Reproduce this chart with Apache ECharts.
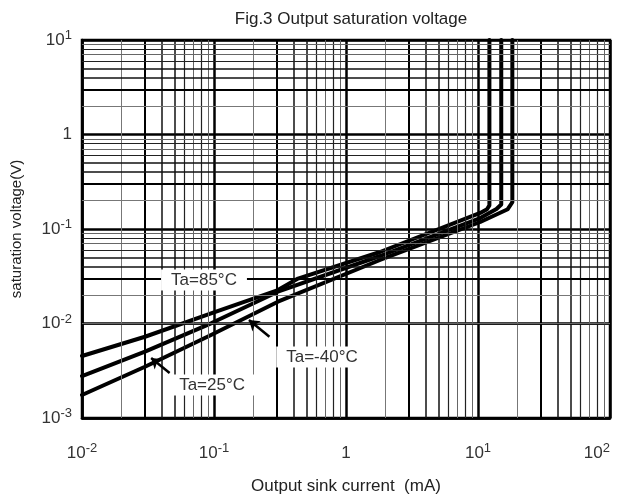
<!DOCTYPE html>
<html><head><meta charset="utf-8">
<script src="https://cdn.jsdelivr.net/npm/echarts@6/dist/echarts.min.js"></script>
<style>html,body{margin:0;padding:0;background:#fff}#c{width:619px;height:499px}</style>
</head><body><div id="c"></div>
<script>
// ---- data ----
const titleText = 'Fig.3 Output saturation voltage';
const xName = 'Output sink current  (mA)';
const yName = 'saturation voltage(V)';
const xTickValues = [0.01, 0.1, 1, 10, 100];
const xTickLabels = ['10{s|-2}', '10{s|-1}', '1', '10{s|1}', '10{s|2}'];
const yTickValues = [0.001, 0.01, 0.1, 1, 10];
const yTickLabels = ['10{s|-3}', '10{s|-2}', '10{s|-1}', '1', '10{s|1}'];

const ta85I = [0.01, 0.030, 0.095, 0.305, 0.433, 1.81, 10.4, 11.7, 12.2, 12.2];
const ta85V = [0.00453, 0.00724, 0.0128, 0.0226, 0.0299, 0.0571, 0.148, 0.162, 0.178, 10];
const ta25I = [0.01, 0.030, 0.095, 0.305, 1.81, 10.4, 13.8, 15.0, 15.0];
const ta25V = [0.00278, 0.00503, 0.01005, 0.0217, 0.0518, 0.1306, 0.163, 0.182, 10];
const taM40I = [0.01, 0.030, 0.095, 0.305, 1.81, 10.4, 16.8, 18.2, 18.2];
const taM40V = [0.00175, 0.00349, 0.00755, 0.0170, 0.047, 0.1186, 0.162, 0.192, 10];

const labelTexts = ['Ta=85°C', 'Ta=-40°C', 'Ta=25°C'];
const labelPosI = [0.084, 0.658, 0.0967];
const labelPosV = [0.0288, 0.00443, 0.00223];
const arrowFromI = [0.263, 0.0461];
const arrowFromV = [0.00724, 0.00299];
const arrowToI = [0.184, 0.0334];
const arrowToV = [0.0109, 0.00431];

const xDecades = [0.01, 0.1, 1, 10];
const yDecades = [0.001, 0.01, 0.1, 1];
const minorMult = [2, 3, 4, 5, 6, 7, 8, 9];

// ---- build ----
const zip = (a, b) => a.map((v, i) => [v, b[i]]);
const multStyle = {
  2: {width: 1, color: '#777'}, 3: {width: 2, color: '#000'}, 4: {width: 1.5, color: '#111'},
  5: {width: 1.5, color: '#111'}, 6: {width: 1.2, color: '#222'}, 7: {width: 1, color: '#666'},
  8: {width: 1.2, color: '#222'}, 9: {width: 1, color: '#666'}
};
const gridLines = [];
xDecades.forEach(d => minorMult.forEach(m => gridLines.push({xAxis: d * m, lineStyle: Object.assign({type: 'solid'}, multStyle[m])})));
yDecades.forEach(d => minorMult.forEach(m => gridLines.push({yAxis: d * m, lineStyle: Object.assign({type: 'solid'}, multStyle[m])})));

function tickFmt(vals, labels) {
  return function (v) {
    for (let i = 0; i < vals.length; i++) if (Math.abs(Math.log10(v / vals[i])) < 1e-6) return labels[i];
    return '';
  };
}
const FONT = '"Liberation Sans", Arial, sans-serif';
const rich = {s: {fontSize: 13, lineHeight: 12, verticalAlign: 'top', color: '#333', fontFamily: FONT}};

function curve(name, I, V) {
  return {name, type: 'line', data: zip(I, V), showSymbol: false, symbol: 'none', z: 3,
    lineStyle: {color: '#000', width: 4, join: 'round', cap: 'round'}, animation: false};
}

const chart = echarts.init(document.getElementById('c'), null, {renderer: 'canvas'});
chart.setOption({
  animation: false,
  backgroundColor: '#fff',
  title: {text: titleText, left: 346, top: 6, textAlign: 'center',
    textStyle: {fontSize: 17, fontWeight: 'normal', color: '#222', fontFamily: FONT}},
  grid: {left: 82, right: 9, top: 40, bottom: 81, show: true, borderColor: '#000', borderWidth: 2.5,
    backgroundColor: '#fff', containLabel: false, outerBoundsMode: 'none'},
  xAxis: {type: 'log', logBase: 10, min: 0.01, max: 100, name: xName, nameLocation: 'middle', nameGap: 60,
    nameTextStyle: {fontSize: 17, color: '#222', fontFamily: FONT},
    axisLine: {show: true, lineStyle: {color: '#000', width: 2.5}}, axisTick: {show: false},
    axisLabel: {formatter: tickFmt(xTickValues, xTickLabels), rich, fontSize: 17, lineHeight: 22, margin: 24,
      color: '#333', fontFamily: FONT, alignMaxLabel: 'right'},
    splitLine: {show: true, lineStyle: {color: '#000', width: 2.5}}},
  yAxis: {type: 'log', logBase: 10, min: 0.001, max: 10, name: yName, nameLocation: 'middle', nameGap: 58, nameRotate: 90,
    nameTextStyle: {fontSize: 15, color: '#222', fontFamily: FONT},
    axisLine: {show: true, lineStyle: {color: '#000', width: 2.5}}, axisTick: {show: false},
    axisLabel: {formatter: tickFmt(yTickValues, yTickLabels), rich, fontSize: 17, lineHeight: 22, margin: 10, color: '#333', fontFamily: FONT},
    splitLine: {show: true, lineStyle: {color: '#000', width: 2.5}}},
  series: [
    {name: 'grid', type: 'line', data: [], z: 1, silent: true,
      markLine: {silent: true, symbol: 'none', label: {show: false}, animation: false, data: gridLines}},
    curve('Ta=85°C', ta85I, ta85V),
    curve('Ta=25°C', ta25I, ta25V),
    curve('Ta=-40°C', taM40I, taM40V),
    {name: 'annotations', type: 'line', data: [], z: 5, silent: true,
      markPoint: {silent: true, animation: false,
        data: labelTexts.map((t, i) => ({coord: [labelPosI[i], labelPosV[i]], symbol: 'rect', symbolSize: 1,
          itemStyle: {color: 'rgba(0,0,0,0)'},
          label: {show: true, position: 'inside', formatter: t, backgroundColor: '#fff', padding: [2, 10],
            fontSize: 17, color: '#333', fontFamily: FONT}}))},
      markLine: {silent: true, animation: false, symbol: ['none', 'arrow'], symbolSize: 10, label: {show: false},
        lineStyle: {color: '#000', width: 2.5, type: 'solid'},
        data: arrowFromI.map((v, i) => [{coord: [v, arrowFromV[i]]}, {coord: [arrowToI[i], arrowToV[i]]}])}}
  ]
});
</script></body></html>
